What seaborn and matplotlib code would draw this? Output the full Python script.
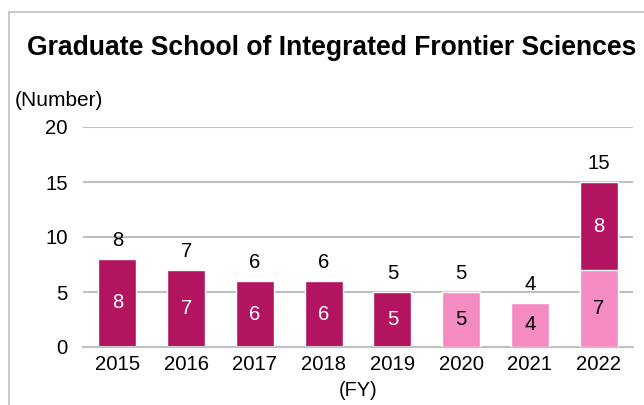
import matplotlib
matplotlib.use('Agg')
import matplotlib.pyplot as plt
import matplotlib.patches as mpatches
import seaborn as sns
import pandas as pd
import numpy as np

# data
years = ['2015', '2016', '2017', '2018', '2019', '2020', '2021', '2022']
dark_vals = [8, 7, 6, 6, 5, 0, 0, 8]   # dark magenta series
pink_vals = [0, 0, 0, 0, 0, 5, 4, 7]   # light pink series (bottom of stack)
y_ticks = [0, 5, 10, 15, 20]

dark_col = '#B3145F'
pink_col = '#F48CC1'
grid_col = '#BFBFBF'

sns.set_theme(style='white')
plt.rcParams['font.family'] = ['Liberation Sans', 'DejaVu Sans']
plt.rcParams['text.color'] = 'black'

df = pd.DataFrame({'year': years, 'dark': dark_vals, 'pink': pink_vals})
df['total'] = df['dark'] + df['pink']

fig = plt.figure(figsize=(6.44, 4.05), dpi=100)
ax = fig.add_axes([83/644, 58/405, 550/644, 220/405])

# total height drawn dark, pink overlaid at the bottom
sns.barplot(data=df, x='year', y='total', color=dark_col, width=0.55,
            edgecolor='white', linewidth=1, saturation=1, ax=ax, zorder=2)
sns.barplot(data=df, x='year', y='pink', color=pink_col, width=0.55,
            edgecolor='white', linewidth=1, saturation=1, ax=ax, zorder=3)

ax.set_ylim(0, 20)
ax.set_xlim(-0.5, 7.5)
ax.set_yticks(y_ticks)
ax.yaxis.grid(True, color=grid_col, linewidth=1.5, zorder=0)
ax.set_axisbelow(True)
for s in ['top', 'right', 'left']:
    ax.spines[s].set_visible(False)
ax.spines['bottom'].set_color(grid_col)
ax.spines['bottom'].set_linewidth(1.5)
ax.tick_params(axis='both', length=0, labelsize=14.6, colors='black')
ax.tick_params(axis='y', pad=11)
ax.tick_params(axis='x', pad=6)
ax.set_xlabel('')
ax.set_ylabel('')

# segment labels and totals
for i, row in df.iterrows():
    if row['pink'] > 0:
        ax.text(i, row['pink'] / 2, str(row['pink']), ha='center', va='center',
                fontsize=14.6, color='black', zorder=5)
    if row['dark'] > 0:
        ax.text(i, row['pink'] + row['dark'] / 2, str(row['dark']), ha='center',
                va='center', fontsize=14.6, color='white', zorder=5)
    ax.text(i, row['total'] + 1.7, str(row['total']), ha='center', va='center',
            fontsize=14.6, color='black')

fig.text(332/644, 1 - 48/405, 'Graduate School of Integrated Frontier Sciences',
         ha='center', va='center', fontsize=19.1, fontweight='bold', color='black')
fig.text(15/644, 1 - 100/405, '(Number)', ha='left', va='center', fontsize=15, color='black')
fig.text(358/644, 1 - 390/405, '(FY)', ha='center', va='center', fontsize=14.3, color='black')

# chart frame (cut off at right and bottom in the reference)
frame = mpatches.Rectangle((9/644, -0.2), 1.2, 1.2 - 12/405, transform=fig.transFigure,
                           fill=False, edgecolor='#BFBFBF', linewidth=1.2)
fig.patches.append(frame)

fig.savefig('out.png', dpi=100)
